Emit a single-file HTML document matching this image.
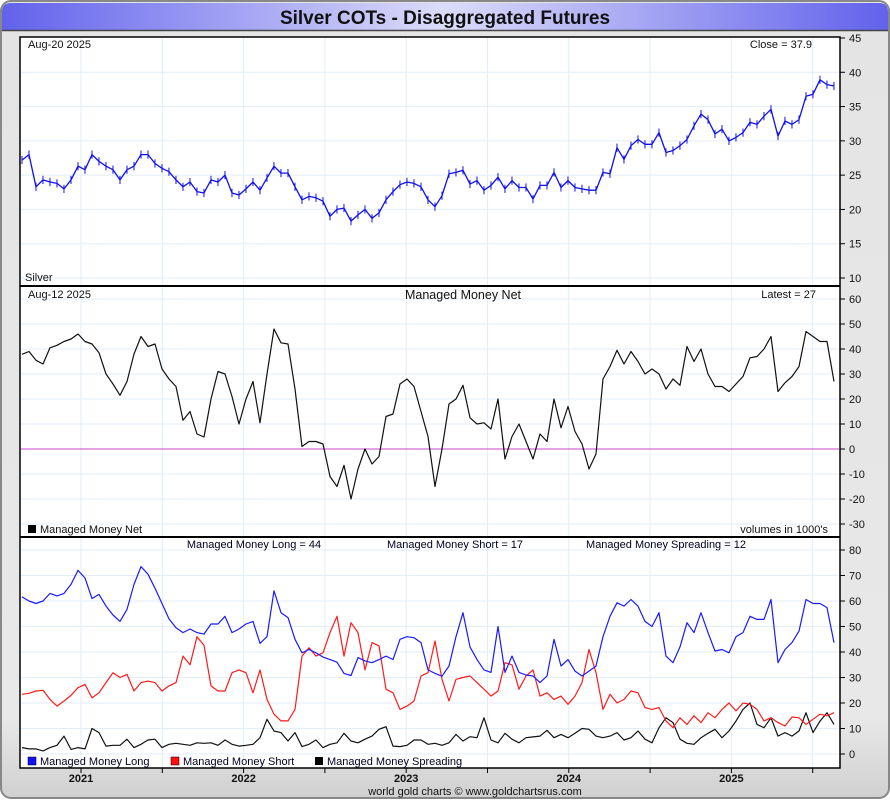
<!DOCTYPE html>
<html><head><meta charset="utf-8"><style>
html,body{margin:0;padding:0;width:890px;height:800px;overflow:hidden;background:#fff;font-family:"Liberation Sans",sans-serif}
</style></head><body>
<svg id="chart" width="890" height="800" xmlns="http://www.w3.org/2000/svg" font-family="Liberation Sans, sans-serif">
<defs>
<linearGradient id="tb" x1="0" x2="1" y1="0" y2="0"><stop offset="0" stop-color="#6262ec"/><stop offset="0.5" stop-color="#dcdcfa"/><stop offset="1" stop-color="#6262ec"/></linearGradient>
<linearGradient id="bg" x1="0" x2="0" y1="0" y2="1"><stop offset="0" stop-color="#e4e4e4"/><stop offset="0.9" stop-color="#e8e8e8"/><stop offset="1" stop-color="#d0d0d0"/></linearGradient>
</defs>
<rect x="1" y="1" width="888" height="797" rx="10" fill="url(#bg)" stroke="#888" stroke-width="2"/>
<path d="M2 30 V12 Q2 3 11 3 H879 Q888 3 888 12 V30 Z" fill="url(#tb)"/>
<line x1="2" y1="30.5" x2="888" y2="30.5" stroke="#444" stroke-width="1.5"/>
<text x="445" y="24" text-anchor="middle" font-size="19" font-weight="bold" fill="#111">Silver COTs - Disaggregated Futures</text>
<rect x="20" y="37" width="820" height="731" fill="#fff"/>
<g id="grid"></g>
<g id="marks"></g>
<g id="axes"></g>
<rect x="20" y="37" width="820" height="731" fill="none" stroke="#000" stroke-width="1.5"/>
<line x1="20" y1="286" x2="840" y2="286" stroke="#000" stroke-width="2"/>
<line x1="20" y1="537" x2="840" y2="537" stroke="#000" stroke-width="2"/>
<g font-size="11" fill="#111">
<text x="28" y="48">Aug-20  2025</text>
<text x="812" y="48" text-anchor="end">Close = 37.9</text>
<text x="25" y="281">Silver</text>
<text x="28" y="298">Aug-12  2025</text>
<text x="463" y="299" text-anchor="middle" font-size="12.5">Managed Money Net</text>
<text x="816" y="298" text-anchor="end">Latest = 27</text>
<rect x="28" y="525" width="8" height="8" fill="#000"/>
<text x="40" y="533">Managed Money Net</text>
<text x="828" y="533" text-anchor="end">volumes in 1000's</text>
<text x="254" y="548" text-anchor="middle" fill="#002">Managed Money Long = 44</text>
<text x="455" y="548" text-anchor="middle" fill="#002">Managed Money Short = 17</text>
<text x="666" y="548" text-anchor="middle" fill="#002">Managed Money Spreading = 12</text>
<rect x="28" y="757" width="8" height="8" fill="#1010ff" stroke="#000" stroke-width="0.5"/>
<text x="40" y="765" fill="#002">Managed Money Long</text>
<rect x="171" y="757" width="8" height="8" fill="#ff1010" stroke="#000" stroke-width="0.5"/>
<text x="183" y="765" fill="#002">Managed Money Short</text>
<rect x="315" y="757" width="8" height="8" fill="#000"/>
<text x="327" y="765" fill="#002">Managed Money Spreading</text>
<text x="475" y="795" text-anchor="middle">world gold charts © www.goldchartsrus.com</text>
</g>
</svg>
<script>
var startYear = 2020.637;
var stepYears = 0.04305;
var priceValues = [27.2,28,23.3,24.3,24,23.8,23,24.3,26.3,25.8,28,27,26.3,25.8,24.3,25.8,26.3,28,28,26.7,26,25.5,24.3,23.3,24,22.6,22.4,24.3,24,25,22.4,22.1,23,24,22.8,24.6,26.3,25.3,25.3,23.3,21.4,21.9,21.7,21.2,19,20,20.2,18.3,19.2,20,18.7,19.5,21.4,22.6,23.6,24,23.8,23.3,21.4,20.4,22,25.2,25.4,25.7,23.7,24.2,22.8,23.5,24.7,23,24.2,23.2,23.2,21.5,23.5,23.5,25.4,23.2,24.2,23.2,23,22.8,22.8,25.4,25.2,29,27.3,29.3,30.2,29.5,29.5,31.2,28.3,28.6,29.3,30.2,32.2,33.9,33.1,31,31.7,30,30.5,31.2,32.7,32.4,33.6,34.6,30.7,32.9,32.4,33.1,36.5,36.8,38.9,38.2,38];
var netValues = [37.9,39,35.5,34,40.5,41.5,43,44,46,43,42,38.5,30,26,21.5,27,38,45,41,42,32,28,25,11.5,15,6,4.8,20,31,30,21,10,20,27,10.5,30,48,42.5,42,24,1,3,3,2,-11,-15,-6.5,-20,-8,0,-6,-3,13,14,26,28,25,15,5,-15,0,18,20,25.5,12.5,10,10.5,8,20,-4,5,10,3,-4,6,3,20,8.5,17,7,2,-8,-2,28,33,39.5,34,39,35,30,32,30,24,28,25.5,41,35,40,30,25,25,23,26,29,36.5,37,40,45,23,26.5,29,33,47,45,43,43,27];
var longValues = [61.6,60,59,60,63,62,63,66.5,72,69,61,62.6,58,54.5,52,56.7,66.5,73.5,70.5,65,59,53,49.5,47.6,49,47.6,47,51,51,54,47.6,49,51,52,43.4,46,64,55.4,53.5,45,39.7,41,39.7,38,37,36,31.6,30.8,37.8,36.5,35.8,37,38.4,37,45,46,45.6,43.7,33,31.6,30.5,34.5,46,55.4,42,37,33,32,50,32,38.4,32,31,30.6,28,30.6,45,34.5,37,32.5,30.6,32.5,34.5,46,54,59.3,58,60.6,58,52,50,55.4,38.4,35.8,42,51.5,47.6,55.4,47.6,40.4,41,39.7,46,47.6,54,52.8,52.8,60.6,35.8,41,43.7,48.2,60.6,59,59,57.4,43.7];
var shortValues = [23.4,23.8,24.7,25,21.4,18.8,20.8,23,26,27.3,22,24,28,31.9,30,31.2,24.7,28,28.6,28,24.7,26.7,28,38.4,35,46,42.6,26.7,24.7,24.7,31.9,33,31.9,24,33,21.4,15.6,13,13,17.5,38.4,41.7,38.4,39.7,47.6,54,38.4,51.5,47.6,33,43.7,42.4,25.4,24,17.5,18.8,20.8,30.6,31.9,44.3,29.3,20.8,29.3,30,30.6,28,25.4,22.7,24.7,35.8,35,25.4,30.6,33,22.7,24,21.4,22.7,19.5,22.7,28,41,31.9,17.5,23.4,20,21.4,24.7,24,18.2,17.5,18.2,13,10.3,14.2,11.6,15,12.3,16.2,14.2,17.5,20,16.9,20,19.5,17.5,13,14.2,12.3,11,14.5,14.2,11.6,13.6,15.6,15,16.2];
var spreadValues = [2.5,2,2,1.2,2.5,3.4,7,1.8,2.5,2,10,8.4,3.1,3.4,3.4,5.8,2.5,3.8,5.5,5.8,2.5,3.8,4.2,3.8,3.4,4.4,4.2,4.4,3.4,5.5,3.8,3.1,3.4,3.8,6.4,13.6,9,8.4,5.1,8.4,2.9,3.8,5.5,2.5,3.8,4.4,8.1,5.1,4.4,5.8,7,9.7,10.7,3.1,2.9,3.4,5.5,5.5,3.8,4.2,3.4,4.4,7.7,5.1,6.8,6.4,14.2,5.5,4.4,8.1,5.8,4.4,6.4,6.7,7,9.3,6.4,7.7,6.4,8.1,10,9.7,7,6.4,7,8.4,5.5,6.4,9,5.8,4.4,10.3,14.2,12.3,5.8,4.2,3.8,6.4,8.1,9.7,6.4,9,12.9,17.5,20,11.6,10.3,14.2,7,8.4,7,9,16.2,8.4,12.9,16.2,11.6];
var priceTicks = [45,40,35,30,25,20,15,10];
var netTicks = [60,50,40,30,20,10,0,-10,-20,-30];
var cotTicks = [80,70,60,50,40,30,20,10,0];
var yearLabels = [2021,2022,2023,2024,2025];
var gridYears = [2021,2021.5,2022,2022.5,2023,2023.5,2024,2024.5,2025,2025.5];

var NS = 'http://www.w3.org/2000/svg';
function xT(t){return 81 + (t-2021)*162.6;}
function tIdx(i){return startYear + i*stepYears;}
function yPrice(v){return 38 + (45-v)*6.857;}
function yNet(v){return 449 - v*2.5;}
function yCot(v){return 754 - v*2.55;}
function mk(tag, attrs, parent){var e=document.createElementNS(NS,tag);for(var k in attrs)e.setAttribute(k,attrs[k]);parent.appendChild(e);return e;}
var grid=document.getElementById('grid'), marks=document.getElementById('marks'), axes=document.getElementById('axes');

gridYears.forEach(function(t){
  var gl=mk('line',{x1:xT(t),x2:xT(t),y1:38,y2:767,stroke:'#e2eef8','stroke-width':1},grid);
  
  
  var tk=mk('line',{x1:xT(t),x2:xT(t),y1:768,y2:773,stroke:'#000','stroke-width':1},axes);
  
  
});
yearLabels.forEach(function(yr){
  var t=mk('text',{x:xT(yr),y:782,'text-anchor':'middle','font-size':11,'font-weight':'bold',fill:'#111'},axes);
  t.textContent=yr;
  
  
});
function yAxis(ticks, yf, lo, hi, name){
  ticks.forEach(function(v){
    var y=yf(v);
    if(y>lo && y<hi){
      var g=mk('line',{x1:21,x2:839,y1:y,y2:y,stroke:'#e2eef8','stroke-width':1},grid);
      
      
    }
    var tk=mk('line',{x1:840,x2:845,y1:y,y2:y,stroke:'#000','stroke-width':1},axes);
    
    
    var t=mk('text',{x:849,y:y+4,'font-size':11,fill:'#111'},axes);
    t.textContent=v;
    
    
  });
}
yAxis(priceTicks,yPrice,38,285,'price-axis');
yAxis(netTicks,yNet,287,536,'net-axis');
yAxis(cotTicks,yCot,538,767,'cot-axis');

var zl=mk('line',{x1:21,x2:839,y1:yNet(0),y2:yNet(0),stroke:'#cc44cc','stroke-width':1},marks);



function series(vals, yf, color, width, name){
  var pts=vals.map(function(v,i){return xT(tIdx(i)).toFixed(1)+','+yf(v).toFixed(1);}).join(' ');
  var p=mk('polyline',{points:pts,fill:'none',stroke:color,'stroke-width':width,'stroke-linejoin':'round'},marks);
  
  
}
priceValues.forEach(function(v,i){
  var b=mk('line',{x1:xT(tIdx(i)),x2:xT(tIdx(i)),y1:yPrice(v+0.6),y2:yPrice(v-0.6),stroke:'#1010ee','stroke-width':1},marks);
  
  
});
series(priceValues,yPrice,'#1010ee',1.3,'silver-price-line');
series(netValues,yNet,'#111',1.2,'managed-money-net-line');
series(spreadValues,yCot,'#111',1.2,'managed-money-spreading-line');
series(shortValues,yCot,'#ff1a1a',1.2,'managed-money-short-line');
series(longValues,yCot,'#1a1aff',1.2,'managed-money-long-line');
</script>
</body></html>
